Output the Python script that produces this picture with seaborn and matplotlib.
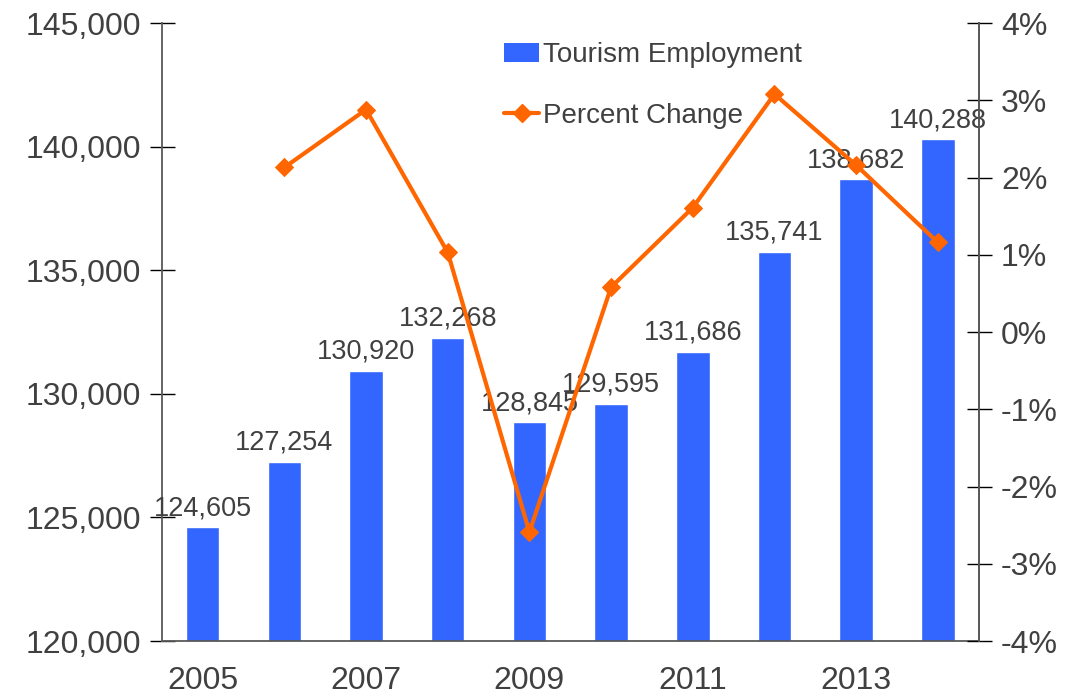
import matplotlib
matplotlib.use('Agg')
import matplotlib.pyplot as plt
import seaborn as sns
import pandas as pd
from matplotlib.ticker import FuncFormatter, FixedLocator
from matplotlib.lines import Line2D
from matplotlib.patches import Patch

# data
years = [2005, 2006, 2007, 2008, 2009, 2010, 2011, 2012, 2013, 2014]
employment = [124605, 127254, 130920, 132268, 128845, 129595, 131686, 135741, 138682, 140288]
pct_years = [2006, 2007, 2008, 2009, 2010, 2011, 2012, 2013, 2014]
pct_change = [2.13, 2.88, 1.03, -2.59, 0.58, 1.61, 3.08, 2.16, 1.16]
label_years = [2005, 2007, 2009, 2011, 2013]

bar_color = '#3366FF'
line_color = '#FF6600'
text_color = '#404040'
axis_color = '#595959'

sns.set_style('white')
plt.rcParams['font.family'] = ['Liberation Sans', 'DejaVu Sans']

df = pd.DataFrame({'pos': [y - years[0] for y in years], 'emp': employment})
df_pct = pd.DataFrame({'pos': [y - years[0] for y in pct_years], 'pct': pct_change})

fig = plt.figure(figsize=(10.79, 6.97), dpi=100)
ax = fig.add_axes([0.150, 0.0803, 0.757, 0.8867])

sns.barplot(data=df, x='pos', y='emp', color=bar_color, saturation=1, width=0.41,
            native_scale=True, ax=ax)
ax.set_xlim(-0.5, len(years) - 0.5)
ax.set_ylim(120000, 145000)
ax.set_yticks(range(120000, 145001, 5000))
ax.yaxis.set_major_formatter(FuncFormatter(lambda v, p: f'{int(v):,}'))
ax.set_xlabel('')
ax.set_ylabel('')

# category boundaries as tick marks, labels on odd years
ax.xaxis.set_major_locator(FixedLocator([i - 0.5 for i in range(len(years) + 1)]))
ax.xaxis.set_major_formatter(FuncFormatter(lambda v, p: ''))
ax.xaxis.set_minor_locator(FixedLocator([y - years[0] for y in label_years]))
ax.set_xticklabels([str(y) for y in label_years], minor=True)
ax.tick_params(axis='x', which='minor', length=0, pad=18, labelsize=23, labelcolor=text_color)
ax.tick_params(axis='x', which='major', direction='inout', length=18, width=1, color='black')
ax.tick_params(axis='y', direction='inout', length=18, width=1, color='black',
               labelsize=23, labelcolor=text_color, pad=6)

for i, v in enumerate(employment):
    ax.text(df['pos'][i], v + 250, f'{v:,}', ha='center', va='bottom', fontsize=19.5, color=text_color)

for s in ['left', 'bottom', 'right']:
    ax.spines[s].set_color(axis_color)
    ax.spines[s].set_linewidth(1.3)
ax.spines['top'].set_visible(False)

ax2 = ax.twinx()
sns.lineplot(data=df_pct, x='pos', y='pct', color=line_color, linewidth=3,
             marker='D', markersize=9, markeredgecolor=line_color, ax=ax2)
ax2.set_ylim(-4, 4)
ax2.set_yticks(range(-4, 5))
ax2.yaxis.set_major_formatter(FuncFormatter(lambda v, p: f'{int(v)}%'))
ax2.set_ylabel('')
ax2.set_xlabel('')
ax2.tick_params(axis='y', direction='inout', length=18, width=1, color='black',
                labelsize=23, labelcolor=text_color, pad=7)
for s in ['left', 'bottom', 'top']:
    ax2.spines[s].set_visible(False)
ax2.spines['right'].set_color(axis_color)
ax2.spines['right'].set_linewidth(1.3)

handles = [Patch(facecolor=bar_color, edgecolor='none'),
           Line2D([0], [0], color=line_color, linewidth=3, marker='D', markersize=9)]
leg = fig.legend(handles, ['Tourism Employment', 'Percent Change'], loc='upper left',
                 bbox_to_anchor=(0.457, 0.955), frameon=False, fontsize=20,
                 labelspacing=1.25, handlelength=1.25, handletextpad=0.15, borderaxespad=0)
for t in leg.get_texts():
    t.set_color(text_color)

fig.savefig('out.png', dpi=100)
